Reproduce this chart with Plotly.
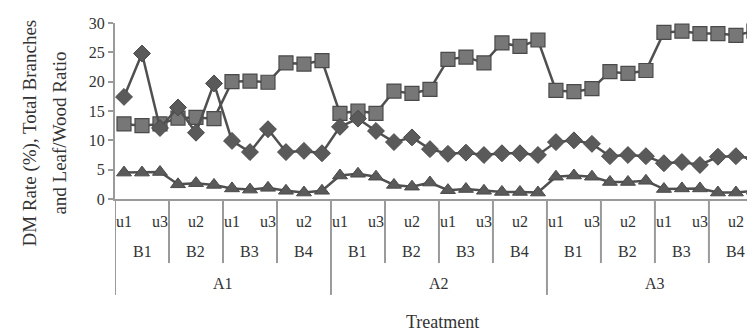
import plotly.graph_objects as go

A_levels = ["A1", "A2", "A3"]
B_levels = ["B1", "B2", "B3", "B4"]
u_levels = ["u1", "u2", "u3"]

# Series (order: A1 B1 u1..u3, A1 B2 u1..u3, ... A3 B4 u3)
total_branches = [12.8, 12.5, 12.8, 13.8, 13.9, 13.7, 20.0, 20.1, 19.9, 23.2, 23.0, 23.6,
                  14.6, 15.0, 14.6, 18.4, 18.0, 18.7, 23.8, 24.2, 23.2, 26.6, 26.0, 27.1,
                  18.5, 18.3, 18.8, 21.7, 21.4, 21.9, 28.4, 28.6, 28.2, 28.2, 27.9, 28.6]
dm_rate = [17.4, 24.8, 12.1, 15.6, 11.3, 19.7, 9.9, 8.0, 11.9, 8.0, 8.2, 7.8,
           12.3, 13.7, 11.6, 9.7, 10.5, 8.5, 7.7, 7.9, 7.5, 7.8, 7.8, 7.5,
           9.7, 10.0, 9.4, 7.3, 7.5, 7.3, 6.1, 6.3, 5.8, 7.2, 7.3, 6.9]
leaf_wood = [4.5, 4.5, 4.6, 2.5, 2.7, 2.4, 1.8, 1.6, 1.9, 1.4, 1.1, 1.4,
             4.0, 4.3, 3.8, 2.4, 2.1, 2.8, 1.5, 1.7, 1.4, 1.2, 1.2, 1.1,
             3.8, 4.0, 3.8, 2.9, 2.9, 3.1, 1.7, 1.8, 1.8, 1.1, 1.1, 1.4]

y_ticks = [0, 5, 10, 15, 20, 25, 30]

nA, nB, nU = len(A_levels), len(B_levels), len(u_levels)
x = list(range(nA * nB * nU))

SERIF = "Liberation Serif, Times New Roman, serif"
LINE = "#505050"

fig = go.Figure()
fig.add_trace(go.Scatter(x=x, y=total_branches, mode="lines+markers",
                         line=dict(color=LINE, width=2.5),
                         marker=dict(symbol="square", size=14, color="#777777",
                                     line=dict(color="#4a4a4a", width=1.2))))
fig.add_trace(go.Scatter(x=x, y=dm_rate, mode="lines+markers",
                         line=dict(color=LINE, width=2.5),
                         marker=dict(symbol="diamond", size=13, color="#5a5a5a",
                                     line=dict(color="#4a4a4a", width=1))))
fig.add_trace(go.Scatter(x=x, y=leaf_wood, mode="lines+markers",
                         line=dict(color=LINE, width=2.5),
                         marker=dict(symbol="triangle-up", size=13, color="#5a5a5a",
                                     line=dict(color="#4a4a4a", width=1))))

shapes = []
annotations = []
GRID = "#9a9a9a"
# u labels (every second label shown)
for i in x:
    if i % 2 == 0:
        annotations.append(dict(x=i, y=-0.125, xref="x", yref="paper",
                                text=u_levels[i % nU], showarrow=False,
                                font=dict(family=SERIF, size=16, color="#333"),
                                yanchor="middle"))
# B labels and separators
for a in range(nA):
    for b in range(nB):
        start = (a * nB + b) * nU
        annotations.append(dict(x=start + 1, y=-0.30, xref="x", yref="paper",
                                text=B_levels[b], showarrow=False,
                                font=dict(family=SERIF, size=16, color="#333"),
                                yanchor="middle"))
        if b > 0:
            shapes.append(dict(type="line", xref="x", yref="paper",
                               x0=start - 0.5, x1=start - 0.5, y0=0, y1=-0.364,
                               line=dict(color=GRID, width=2)))
    startA = a * nB * nU
    annotations.append(dict(x=startA + (nB * nU - 1) / 2, y=-0.482, xref="x", yref="paper",
                            text=A_levels[a], showarrow=False,
                            font=dict(family=SERIF, size=16, color="#333"),
                            yanchor="middle"))
    shapes.append(dict(type="line", xref="x", yref="paper",
                       x0=startA - 0.5, x1=startA - 0.5, y0=0, y1=-0.545,
                       line=dict(color=GRID, width=2)))

annotations.append(dict(x=0.511, y=-0.70, xref="paper", yref="paper",
                        text="Treatment", showarrow=False,
                        font=dict(family=SERIF, size=18, color="#333"),
                        yanchor="middle"))
annotations.append(dict(x=-0.133, y=0.377, xref="paper", yref="paper",
                        text="DM Rate (%), Total Branches", showarrow=False, textangle=-90,
                        font=dict(family=SERIF, size=19, color="#333"),
                        xanchor="center", yanchor="middle"))
annotations.append(dict(x=-0.086, y=0.377, xref="paper", yref="paper",
                        text="and Leaf/Wood Ratio", showarrow=False, textangle=-90,
                        font=dict(family=SERIF, size=19, color="#333"),
                        xanchor="center", yanchor="middle"))

fig.update_layout(
    width=747, height=326,
    margin=dict(l=107, r=0, t=15, b=135),
    paper_bgcolor="white", plot_bgcolor="white",
    showlegend=False,
    shapes=shapes, annotations=annotations,
    xaxis=dict(range=[-0.5, 35.06], showgrid=False, zeroline=False,
               showticklabels=False, ticks="",
               showline=True, linecolor=GRID, linewidth=2),
    yaxis=dict(range=[0, 30], tickvals=y_ticks, showgrid=False, zeroline=False,
               showline=True, linecolor=GRID, linewidth=2,
               ticks="outside", ticklen=5, tickcolor=GRID, tickwidth=1.5,
               tickfont=dict(family=SERIF, size=16, color="#333")),
)

fig.write_html("out.html")
